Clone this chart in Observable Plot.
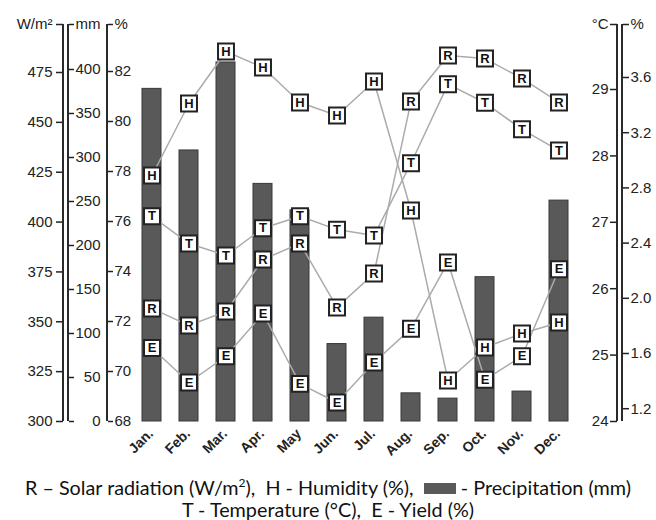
<!DOCTYPE html>
<html>
<head>
<meta charset="utf-8">
<script src="https://cdn.jsdelivr.net/npm/d3@7"></script>
<script src="https://cdn.jsdelivr.net/npm/@observablehq/plot@0.6"></script>
<style>
  body { margin: 0; background: #fff; }
  #legend { font-family: Lato, "Open Sans", sans-serif; font-size: 19.8px; color: #111; text-align: center; line-height: 22px; padding-top: 11px; }
  .swatch { display: inline-block; width: 32px; height: 11px; background: #5a5a5a; vertical-align: 1px; }
</style>
</head>
<body>
<div id="chart"></div>
<div id="legend">
  <div>R – Solar radiation (W/m<sup style="font-size:12px;line-height:0">2</sup>),&nbsp; H - Humidity (%),&nbsp; <span class="swatch"></span> - Precipitation (mm)</div>
  <div>T - Temperature (°C),&nbsp; E - Yield (%)</div>
</div>
<script>
// ---- data ----
const months = ["Jan.", "Feb.", "Mar.", "Apr.", "May", "Jun.", "Jul.", "Aug.", "Sep.", "Oct.", "Nov.", "Dec."];
const precipitation = [378, 308, 408, 270, 240, 88, 118, 32, 26, 164, 34, 251];      // mm
const radiation = [356.7, 348.1, 355.2, 381.2, 389.3, 357.2, 374.2, 460.5, 483.5, 482.0, 472.0, 460.0]; // W/m²
const humidity = [77.84, 80.72, 82.8, 82.16, 80.76, 80.24, 81.6, 76.44, 69.64, 70.96, 71.52, 71.96];   // %
const temperature = [27.09, 26.68, 26.50, 26.91, 27.09, 26.89, 26.80, 27.89, 29.08, 28.80, 28.40, 28.08]; // °C
const yieldPct = [1.64, 1.39, 1.58, 1.89, 1.38, 1.245, 1.535, 1.78, 2.26, 1.41, 1.58, 2.21];           // %

const radTicks = [300, 325, 350, 375, 400, 425, 450, 475];
const mmTicks = [0, 50, 100, 150, 200, 250, 300, 350, 400];
const humTicks = [68, 70, 72, 74, 76, 78, 80, 82];
const tempTicks = [24, 25, 26, 27, 28, 29];
const yieldTicks = [1.2, 1.6, 2.0, 2.4, 2.8, 3.2, 3.6];

// ---- shared vertical scale: each axis maps linearly onto a common height ----
const topH = 397;
const radH = v => (v - 300) * 349 / 175;
const mmH = v => v * 0.88;
const humH = v => (v - 68) * 25;
const tempH = v => (v - 24) * 66.4;
const yieldH = v => 344 - (3.6 - v) * 138;

const data = months.map((m, i) => ({month: m, mm: precipitation[i]}));
const series = [
  {key: "R", values: radiation, conv: radH},
  {key: "H", values: humidity, conv: humH},
  {key: "T", values: temperature, conv: tempH},
  {key: "E", values: yieldPct, conv: yieldH}
];
const points = series.flatMap(s => months.map((m, i) => ({key: s.key, month: m, h: s.conv(s.values[i])})));

// ---- layout ----
const W = 656, H = 465, mL = 140, mR = 86.5, mT = 24, mB = 44;
const axisCfg = [
  {x: 63, anchor: "left", ticks: radTicks, conv: radH, unit: "W/m²", fmt: String, tickSize: 7, tickPadding: 4},
  {x: 68, anchor: "right", ticks: mmTicks, conv: mmH, unit: "mm", fmt: String, tickSize: 5, tickPadding: 27, textAnchor: "end"},
  {x: 107, anchor: "right", ticks: humTicks, conv: humH, unit: "%", fmt: String, tickSize: 5, tickPadding: 2},
  {x: 617, anchor: "left", ticks: tempTicks, conv: tempH, unit: "°C", fmt: String, tickSize: 7, tickPadding: 2},
  {x: 622, anchor: "right", ticks: yieldTicks, conv: yieldH, unit: "%", fmt: v => v.toFixed(1), tickSize: 6, tickPadding: 2}
];

const axes = axisCfg.map(a => {
  const labels = new Map(a.ticks.map(v => [a.conv(v), a.fmt(v)]));
  labels.set(topH, a.unit);
  const base = a.anchor === "left" ? mL : W - mR;
  const opts = {
    anchor: a.anchor,
    label: null,
    ticks: [...labels.keys()],
    tickFormat: h => labels.get(h),
    tickSize: a.tickSize,
    tickPadding: a.tickPadding,
    dx: a.x - base,
    fontSize: 15,
    fill: "#222",
    stroke: "#222",
    strokeWidth: 1.5
  };
  if (a.textAnchor) opts.textAnchor = a.textAnchor;
  return Plot.axisY(opts);
});

const axisLines = (index, {y}) => {
  const g = d3.create("svg:g").attr("stroke", "#2a2a2a").attr("stroke-width", 2);
  for (const a of axisCfg) {
    g.append("line").attr("x1", a.x).attr("x2", a.x).attr("y1", y(0)).attr("y2", y(topH));
  }
  return g.node();
};

const chart = Plot.plot({
  width: W,
  height: H,
  marginLeft: mL,
  marginRight: mR,
  marginTop: mT,
  marginBottom: mB,
  style: {fontFamily: "'Liberation Sans', Arial, sans-serif", fontSize: "15px", background: "#fff"},
  x: {type: "band", domain: months, paddingInner: 0.49, paddingOuter: 0, axis: null},
  y: {type: "linear", domain: [0, topH], label: null},
  marks: [
    Plot.barY(data, {x: "month", y: d => mmH(d.mm), fill: "#595959", stroke: "#383838", strokeWidth: 1}),
    ...series.map(s => Plot.lineY(points.filter(p => p.key === s.key), {x: "month", y: "h", stroke: "#ababab", strokeWidth: 1.5})),
    Plot.dot(points, {x: "month", y: "h", symbol: "square", r: 9, fill: "white", stroke: "#222", strokeWidth: 2}),
    Plot.text(points, {x: "month", y: "h", text: "key", fontWeight: "bold", fontSize: 13, fill: "#111", fontFamily: "'Liberation Sans', Arial, sans-serif"}),
    Plot.text(months, {x: d => d, frameAnchor: "bottom", rotate: -45, textAnchor: "end", dx: 2, dy: 13, fontSize: 14, fontWeight: "bold", fill: "#222"}),
    ...axes,
    axisLines
  ]
});
document.getElementById("chart").appendChild(chart);
</script>
</body>
</html>
